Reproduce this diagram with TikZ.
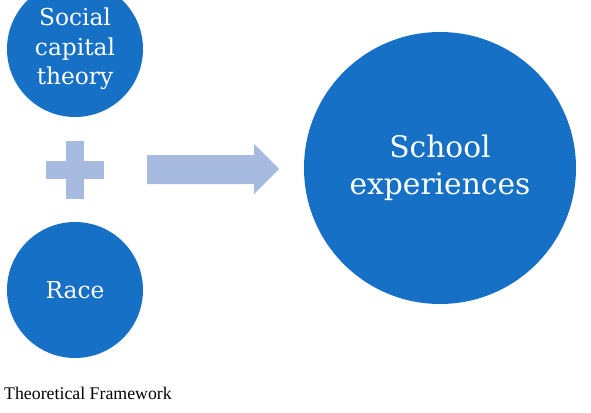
\documentclass[tikz,border=0pt]{standalone}
\usepackage{fontspec}
\setmainfont{DejaVu Serif}
\newfontfamily\capfont{Liberation Serif}
\usepackage{tikz}
\usetikzlibrary{positioning,calc}
\usepackage{xcolor}
\definecolor{circblue}{HTML}{1570C6}
\definecolor{lightblue}{HTML}{A7BADF}

\begin{document}
\begin{tikzpicture}[
    x=1pt, y=-1pt,
    circ/.style  = {circle, fill=circblue, text=white, align=center,
                    inner sep=0pt},
    scirc/.style = {circ, minimum size=136pt,
                    font=\fontsize{23.3}{29.5}\selectfont},
    bcirc/.style = {circ, minimum size=272pt,
                    font=\fontsize{29.7}{37.5}\selectfont},
    blockfill/.style = {fill=lightblue},
]
\useasboundingbox (0,0) rectangle (591,412);

%% ── Input circles: left column ───────────────────────────────────────────────
\node[scirc] (social) at (75,  49) {Social\\capital\\theory};
\node[scirc] (race)   at (75, 290) {Race};

%% ── Outcome circle: right ────────────────────────────────────────────────────
\node[bcirc] (school) at (440, 168) {School\\experiences};

%% ── Plus sign between the inputs ─────────────────────────────────────────────
\coordinate (plus) at (75, 170);
\fill[blockfill] ($(plus)+(-29,-9)$) rectangle ($(plus)+(29,9)$);
\fill[blockfill] ($(plus)+(-9,-29)$) rectangle ($(plus)+(9,29)$);

%% ── Block arrow towards the outcome ──────────────────────────────────────────
\coordinate (tip) at (279, 169);
\fill[blockfill] (147,155) -- (254,155) -- (254,144) -- (tip)
    -- (254,194) -- (254,184) -- (147,184) -- cycle;

%% ── Caption ──────────────────────────────────────────────────────────────────
\node[anchor=base west, inner sep=0pt,
      font=\capfont\fontsize{17.8}{20}\selectfont] (caption) at (4, 399)
    {Theoretical Framework};

\end{tikzpicture}
\end{document}
